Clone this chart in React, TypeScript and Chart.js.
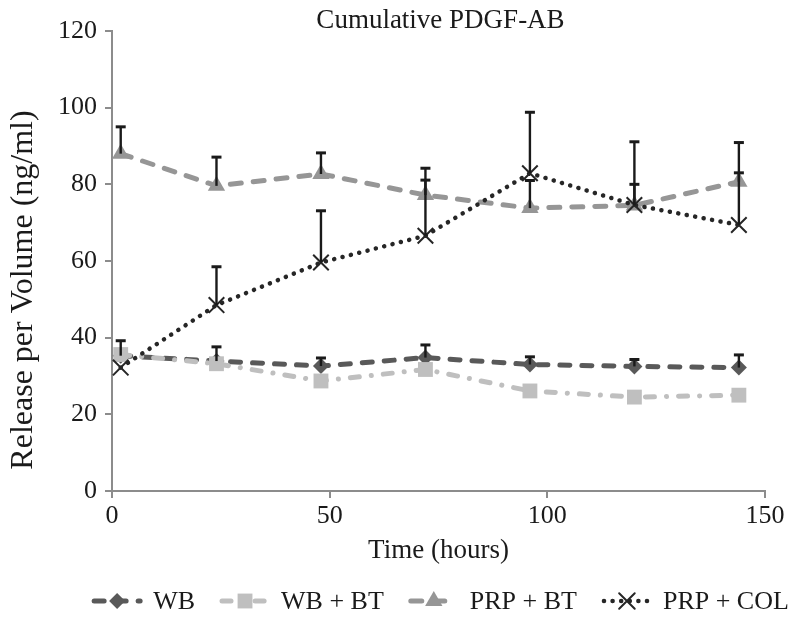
import React, { useEffect, useRef } from 'react';
import { Chart, registerables } from 'chart.js';
import { drawPoint } from 'chart.js/helpers';

Chart.register(...registerables);

const FONT = '"Liberation Serif", "Times New Roman", serif';
const TEXT = '#1a1a1a';
const AXIS = '#8c8c8c';

// ---- data ----
const hours = [2, 24, 48, 72, 96, 120, 144];
const seriesNames = ['WB', 'WB + BT', 'PRP + BT', 'PRP + COL'];
const wb = [35.3, 33.9, 32.6, 34.8, 33.0, 32.5, 32.2];
const wbSd = [3.9, 3.7, 2.1, 3.3, 2.0, 1.8, 3.3];
const wbBt = [35.6, 33.2, 28.7, 31.7, 26.1, 24.5, 25.0];
const prpBt = [88.0, 79.6, 82.7, 77.2, 73.8, 74.5, 80.7];
const prpBtSd = [7.0, 7.5, 5.5, 7.0, 7.2, 5.5, 2.3];
const prpCol = [32.2, 48.5, 59.6, 66.6, 82.9, 74.6, 69.4];
const prpColSd = [0, 10.0, 13.5, 14.5, 15.9, 16.5, 21.5];
const xTickValues = [0, 50, 100, 150];
const yTickValues = [0, 20, 40, 60, 80, 100, 120];
const chartTitle = 'Cumulative PDGF-AB';
const xTitle = 'Time (hours)';
const yTitle = 'Release per Volume (ng/ml)';

const means = [wb, wbBt, prpBt, prpCol];
const errors: (number[] | null)[] = [wbSd, null, prpBtSd, prpColSd];

// ---- styles ----
const seriesColors = ['#595959', '#bfbfbf', '#969696', '#262626'];
const seriesDash = [[10, 12], [9, 12, 0.1, 12], [11, 12], [0.1, 8.5]];
const seriesWidth = [5, 5, 5, 4.5];
const seriesPoint = ['rectRot', 'rect', 'triangle', 'crossRot'];
const seriesRadius = [8, 10.5, 10, 11];

const errorBarPlugin = {
  id: 'errorBars',
  afterDatasetsDraw(chart: any) {
    const ctx = chart.ctx;
    const yS = chart.scales.y;
    ctx.save();
    ctx.strokeStyle = TEXT;
    ctx.setLineDash([]);
    ctx.lineCap = 'butt';
    means.forEach((m, k) => {
      const sd = errors[k];
      if (!sd) return;
      const meta = chart.getDatasetMeta(k);
      meta.data.forEach((pt: any, i: number) => {
        if (!sd[i]) return;
        const x = pt.x;
        const y0 = yS.getPixelForValue(m[i]);
        const y1 = yS.getPixelForValue(m[i] + sd[i]);
        ctx.lineWidth = 2.4;
        ctx.beginPath();
        ctx.moveTo(x, y0);
        ctx.lineTo(x, y1);
        ctx.stroke();
        ctx.lineWidth = 3;
        ctx.beginPath();
        ctx.moveTo(x - 5, y1);
        ctx.lineTo(x + 5, y1);
        ctx.stroke();
      });
    });
    ctx.restore();
  },
};

const textPlugin = {
  id: 'texts',
  afterDraw(chart: any) {
    const ctx = chart.ctx;
    const area = chart.chartArea;
    const cx = (area.left + area.right) / 2;
    ctx.save();
    ctx.fillStyle = TEXT;
    ctx.textBaseline = 'alphabetic';
    // title
    ctx.font = `27px ${FONT}`;
    ctx.textAlign = 'center';
    ctx.fillText(chartTitle, cx + 2, 28);
    // y title
    ctx.save();
    ctx.font = `32px ${FONT}`;
    ctx.translate(32, 290);
    ctx.rotate(-Math.PI / 2);
    ctx.textAlign = 'center';
    ctx.fillText(yTitle, 0, 0);
    ctx.restore();
    // legend
    ctx.font = `26px ${FONT}`;
    ctx.textAlign = 'left';
    const iconW = 50, iconGap = 11, itemGap = 25;
    const widths = seriesNames.map((n) => ctx.measureText(n).width);
    const total = widths.reduce((a, w) => a + iconW + iconGap + w, 0) + itemGap * (seriesNames.length - 1);
    let x = cx - total / 2 + 2;
    const ly = 601;
    seriesNames.forEach((name, k) => {
      ctx.save();
      ctx.strokeStyle = seriesColors[k];
      ctx.lineWidth = seriesWidth[k];
      ctx.setLineDash(seriesDash[k]);
      ctx.lineCap = 'round';
      ctx.beginPath();
      ctx.moveTo(x + 2, ly);
      ctx.lineTo(x + iconW - 2, ly);
      ctx.stroke();
      ctx.setLineDash([]);
      ctx.fillStyle = seriesColors[k];
      ctx.lineWidth = 2;
      drawPoint(ctx, { pointStyle: seriesPoint[k] as any, radius: seriesRadius[k], rotation: 0, borderWidth: k === 3 ? 2 : 0 } as any, x + iconW / 2, ly);
      ctx.restore();
      ctx.fillStyle = TEXT;
      ctx.fillText(name, x + iconW + iconGap, 609);
      x += iconW + iconGap + widths[k] + itemGap;
    });
    ctx.restore();
  },
};

export default function App() {
  const ref = useRef<HTMLCanvasElement>(null);
  useEffect(() => {
    const canvas = ref.current!;
    const datasets = seriesNames.map((name, k) => ({
      label: name,
      data: hours.map((h, i) => ({ x: h, y: means[k][i] })),
      borderColor: seriesColors[k],
      backgroundColor: seriesColors[k],
      borderWidth: seriesWidth[k],
      borderDash: seriesDash[k],
      borderCapStyle: 'round' as const,
      borderJoinStyle: 'round' as const,
      tension: 0,
      pointStyle: seriesPoint[k] as any,
      pointRadius: seriesRadius[k],
      pointBorderWidth: k === 3 ? 2 : 0,
      pointBorderColor: seriesColors[k],
      pointBackgroundColor: seriesColors[k],
      order: seriesNames.length - k,
    }));
    const chart = new Chart(canvas, {
      type: 'line',
      data: { datasets },
      options: {
        responsive: false,
        devicePixelRatio: 1,
        animation: false,
        layout: { padding: { top: 31, right: 35, bottom: 49, left: 0 } },
        plugins: { legend: { display: false }, title: { display: false }, tooltip: { enabled: false } },
        scales: {
          x: {
            type: 'linear',
            min: 0,
            max: 150,
            afterBuildTicks: (s: any) => { s.ticks = xTickValues.map((v) => ({ value: v })); },
            afterFit: (s: any) => { s.height = 80; },
            ticks: { font: { family: FONT, size: 26 }, color: TEXT, padding: 3, maxRotation: 0, autoSkip: false },
            grid: { drawOnChartArea: false, drawTicks: true, tickLength: 7, color: AXIS, lineWidth: 2 },
            border: { color: AXIS, width: 2 },
            title: { display: true, text: xTitle, font: { family: FONT, size: 27 }, color: TEXT, padding: { top: 0, bottom: 4 } },
          },
          y: {
            type: 'linear',
            min: 0,
            max: 120,
            afterBuildTicks: (s: any) => { s.ticks = yTickValues.map((v) => ({ value: v })); },
            afterFit: (s: any) => { s.width = 112; },
            ticks: { font: { family: FONT, size: 26 }, color: TEXT, padding: 8, autoSkip: false },
            grid: { drawOnChartArea: false, drawTicks: true, tickLength: 7, color: AXIS, lineWidth: 2 },
            border: { color: AXIS, width: 2 },
          },
        },
      } as any,
      plugins: [errorBarPlugin, textPlugin],
    });
    return () => chart.destroy();
  }, []);
  return (
    <div style={{ position: 'fixed', left: 0, top: 0, width: 800, height: 620, background: '#fff' }}>
      <canvas ref={ref} width={800} height={620} style={{ display: 'block' }} />
    </div>
  );
}
